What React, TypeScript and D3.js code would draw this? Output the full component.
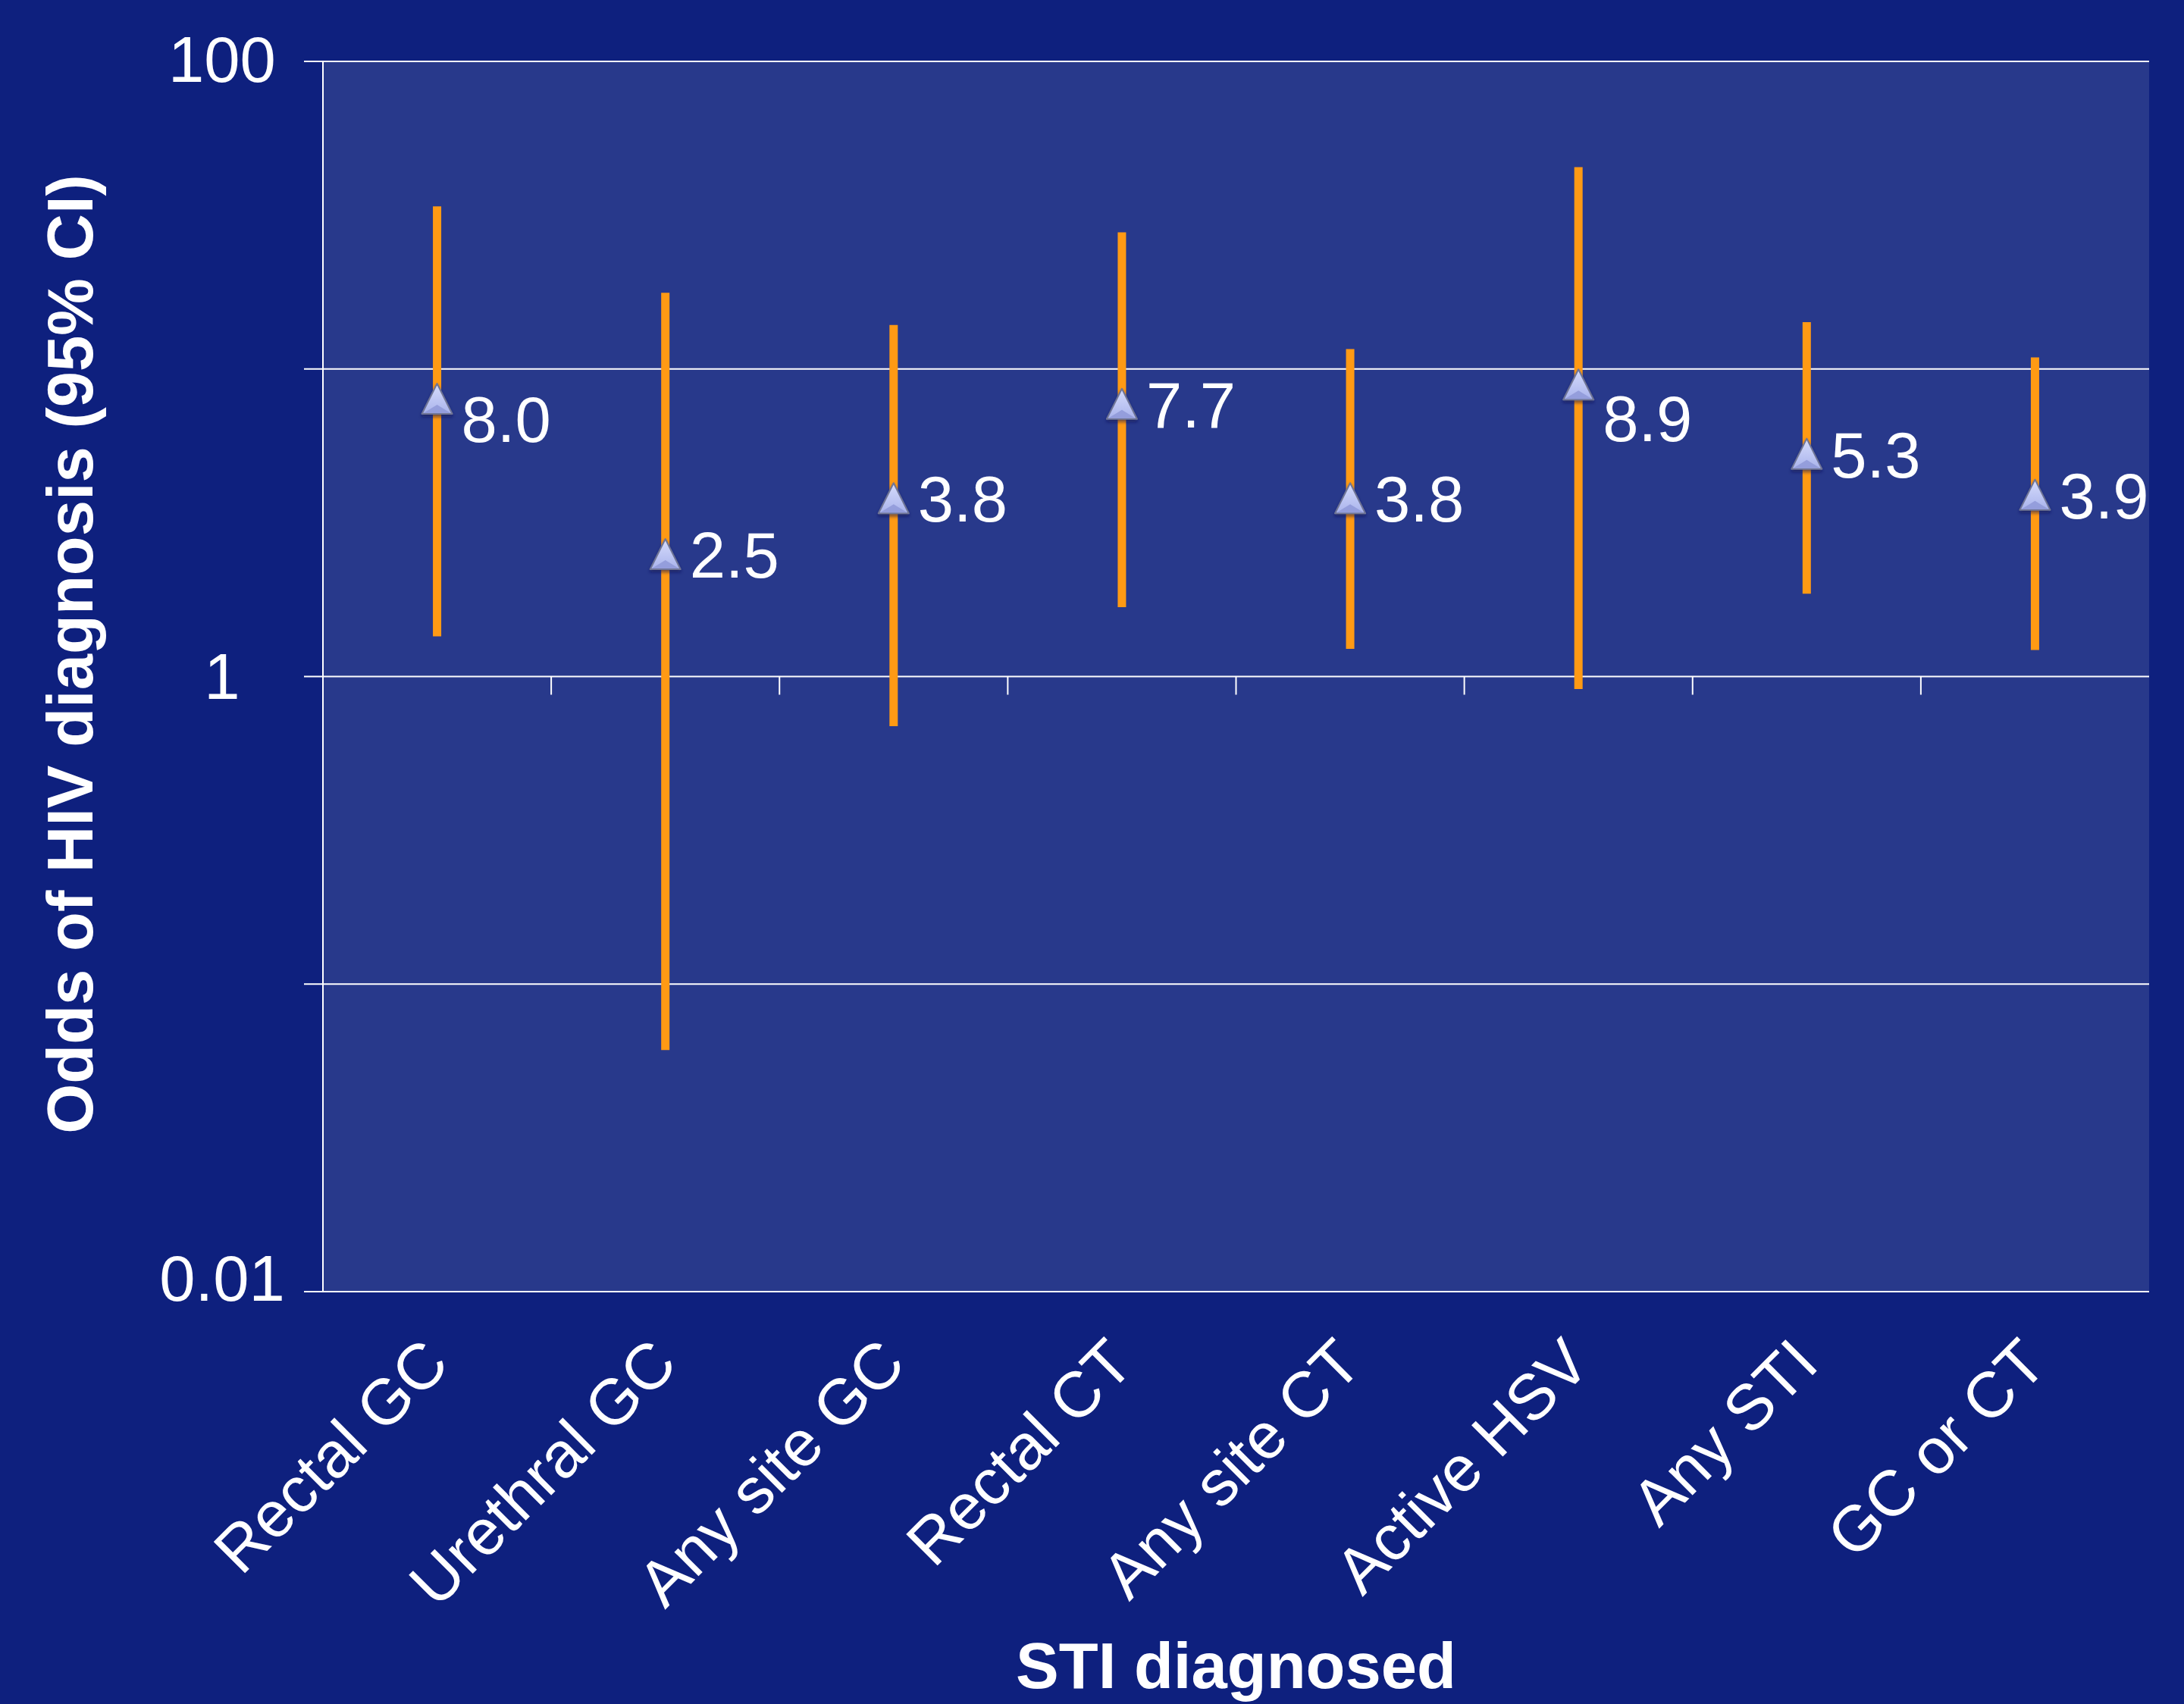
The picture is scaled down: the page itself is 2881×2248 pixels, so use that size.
import React from 'react';
import * as d3 from 'd3';

const categories = ["Rectal GC", "Urethral GC", "Any site GC", "Rectal CT", "Any site CT", "Active HSV", "Any STI", "GC or CT"];
const oddsRatios = [8.0, 2.5, 3.8, 7.7, 3.8, 8.9, 5.3, 3.9];
const oddsLabels = ["8.0", "2.5", "3.8", "7.7", "3.8", "8.9", "5.3", "3.9"];
const ciLower = [1.35, 0.061, 0.69, 1.68, 1.23, 0.91, 1.86, 1.22];
const ciUpper = [33.8, 17.7, 13.9, 27.8, 11.6, 45.3, 14.2, 10.9];
const gridValues = [100, 10, 1, 0.1, 0.01];
const tickLabelValues = [100, 1, 0.01];
const tickLabels = ["100", "1", "0.01"];
const yTitle = "Odds of HIV diagnosis (95% CI)";
const xTitle = "STI diagnosed";

// layout nudges (pixels) for label baselines, as placed in the original
const dataLabelBaseline = [57, 31, 31, 31, 31, 75, 31, 31];
const tickLabelBaseline = [27, 29, 12];

const W = 2881;
const H = 2248;
const FONT = "'Liberation Sans', Arial, Helvetica, sans-serif";

export default function App() {
  const left = 426, right = 2835, top = 81, bottom = 1704;
  const x = d3.scaleBand<string>().domain(categories).range([left, right]).padding(0);
  const y = d3.scaleLog().domain([0.01, 100]).range([bottom, top]);
  const bw = x.bandwidth();
  const cx = (c: string) => (x(c) as number) + bw / 2;
  const triW = 40, triH = 40;

  return (
    <svg width={W} height={H} style={{ position: 'absolute', left: 0, top: 0 }} xmlns="http://www.w3.org/2000/svg">
      <defs>
        <linearGradient id="triGrad" x1="0" y1="0" x2="0" y2="1">
          <stop offset="0" stopColor="#D6DCFB" />
          <stop offset="1" stopColor="#A9B3EC" />
        </linearGradient>
        <filter id="shadow" x="-50%" y="-50%" width="200%" height="200%">
          <feDropShadow dx="0" dy="3" stdDeviation="2" floodColor="#0A1550" floodOpacity="0.6" />
        </filter>
      </defs>
      <rect x={0} y={0} width={W} height={H} fill="#0E207E" />
      <rect x={left} y={top} width={right - left} height={bottom - top} fill="#28398B" />

      {/* gridlines + y ticks */}
      {gridValues.map((v) => (
        <line key={'g' + v} x1={left - 25} x2={right} y1={y(v)} y2={y(v)} stroke="#FFFFFF" strokeWidth={2} />
      ))}
      <line x1={left} x2={left} y1={top} y2={bottom} stroke="#FFFFFF" strokeWidth={2} />

      {/* x-axis ticks at y = 1 */}
      {categories.slice(1).map((c) => (
        <line key={'xt' + c} x1={x(c) as number} x2={x(c) as number} y1={y(1)} y2={y(1) + 24} stroke="#FFFFFF" strokeWidth={2} />
      ))}

      {/* y tick labels */}
      {tickLabelValues.map((v, i) => (
        <text key={'yl' + v} x={293} y={y(v) + tickLabelBaseline[i]} textAnchor="middle" fill="#FFFFFF" fontFamily={FONT} fontSize={85}>
          {tickLabels[i]}
        </text>
      ))}

      {/* error bars */}
      {categories.map((c, i) => (
        <line key={'e' + c} x1={cx(c)} x2={cx(c)} y1={y(ciUpper[i])} y2={y(ciLower[i])} stroke="#FF9A14" strokeWidth={11} />
      ))}

      {/* markers */}
      {categories.map((c, i) => {
        const px = cx(c), py = y(oddsRatios[i]);
        return (
          <g key={'m' + c} transform={`translate(${px},${py})`} filter="url(#shadow)">
            <path d={`M0,${-triH / 2} L${triW / 2},${triH / 2} L${-triW / 2},${triH / 2} Z`} fill="url(#triGrad)" stroke="#6F7595" strokeWidth={2} strokeLinejoin="round" />
            <path d={`M${-triW / 2 + 2},${triH / 2 - 1} L0,${triH / 2 - 12} L${triW / 2 - 2},${triH / 2 - 1} Z`} fill="#8F99D8" opacity={0.85} />
          </g>
        );
      })}

      {/* data labels */}
      {categories.map((c, i) => (
        <text key={'dl' + c} x={cx(c) + 32} y={y(oddsRatios[i]) + dataLabelBaseline[i]} fill="#FFFFFF" fontFamily={FONT} fontSize={85}>
          {oddsLabels[i]}
        </text>
      ))}

      {/* category labels */}
      {categories.map((c) => (
        <text key={'cl' + c} transform={`translate(${cx(c) + 19},${bottom + 99}) rotate(-45)`} textAnchor="end" fill="#FFFFFF" fontFamily={FONT} fontSize={85}>
          {c}
        </text>
      ))}

      {/* axis titles */}
      <text transform={`translate(122,863) rotate(-90)`} textAnchor="middle" fill="#FFFFFF" fontFamily={FONT} fontSize={85} fontWeight="bold">
        {yTitle}
      </text>
      <text x={(left + right) / 2} y={2227} textAnchor="middle" fill="#FFFFFF" fontFamily={FONT} fontSize={85} fontWeight="bold">
        {xTitle}
      </text>
    </svg>
  );
}
